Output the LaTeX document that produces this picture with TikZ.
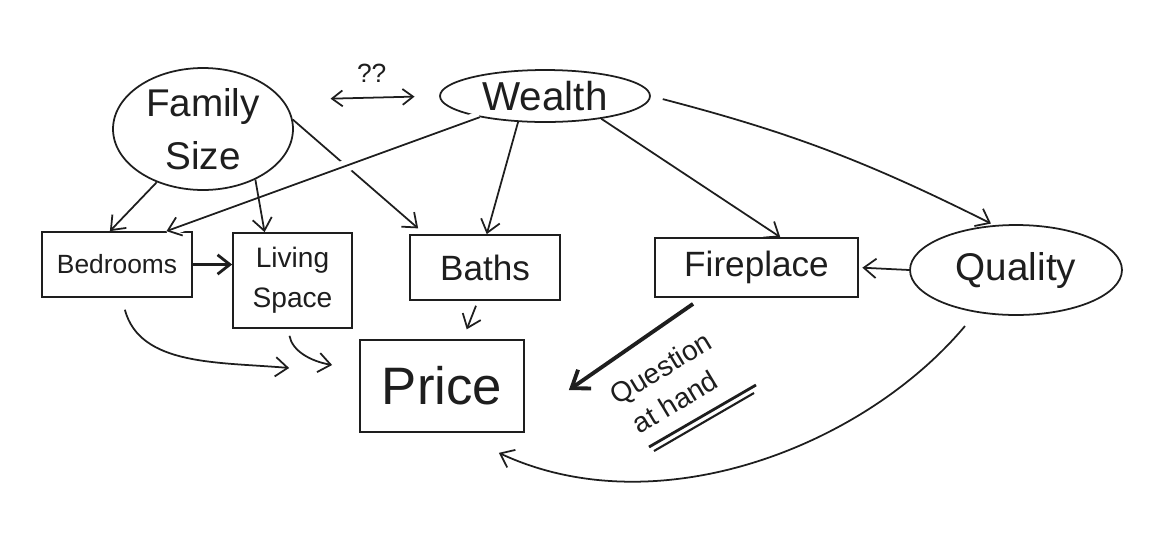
\documentclass[tikz,border=0pt]{standalone}
\usepackage{fontspec}
\setmainfont{Liberation Sans}
\usetikzlibrary{arrows.meta,shapes.geometric,calc}
\definecolor{ink}{HTML}{1E1E1E}
\begin{document}
\begin{tikzpicture}[x=0.02cm,y=-0.02cm, line width=1pt, draw=ink, text=ink,
  box/.style={draw, rectangle, inner sep=0pt},
  oval/.style={draw, ellipse, inner sep=0pt},
  arr/.style={-{Straight Barb[length=7pt,width=11pt]}},
  bigarr/.style={-{Straight Barb[length=9pt,width=13pt]}, line width=2.2pt},
  qlabel/.style={rotate=31, inner sep=1pt, font=\fontsize{16}{19}\selectfont},
]
\useasboundingbox[fill=white] (0,0) rectangle (1150,535);

% nodes
\node[oval, minimum width=3.6cm, minimum height=2.44cm, align=center,
      font=\fontsize{22}{30}\selectfont] (fam) at (203,129) {Family\\Size};
\node[oval, minimum width=4.2cm, minimum height=1.04cm,
      font=\fontsize{23}{26}\selectfont] (wea) at (545,96) {Wealth};
\node[oval, minimum width=4.24cm, minimum height=1.8cm,
      font=\fontsize{22}{26}\selectfont] (qua) at (1016,270) {Quality};
\node[box, minimum width=3.0cm, minimum height=1.3cm,
      font=\fontsize{15}{18}\selectfont] (bed) at (117,264.5) {Bedrooms};
\node[box, minimum width=2.38cm, minimum height=1.9cm, align=center,
      font=\fontsize{16}{23}\selectfont] (liv) at (292.5,280.5) {Living\\Space};
\node[box, minimum width=3.0cm, minimum height=1.3cm,
      font=\fontsize{20}{24}\selectfont] (bat) at (485,267.5) {Baths};
\node[box, minimum width=4.06cm, minimum height=1.18cm,
      font=\fontsize{20}{24}\selectfont] (fir) at (756.5,267.5) {Fireplace};
\node[box, minimum width=3.28cm, minimum height=1.84cm,
      font=\fontsize{30}{34}\selectfont] (pri) at (442,386) {Price};

% family size <-> wealth
\draw[{Straight Barb[length=6pt,width=9pt]}-{Straight Barb[length=6pt,width=9pt]},
      shorten <=27pt, shorten >=14pt] (fam.20) -- node[above=5pt, xshift=6pt, font=\fontsize{15}{17}\selectfont] (qq) {??} (wea.west);

% edges out of family size and wealth
\draw[arr, shorten >=5pt] (fam.6) -- (bat.151);
\draw[arr, preaction={draw, white, line width=7pt, -}] (wea.-162) -- (bed.34);
\draw[arr] (fam.-44) -- (liv.120);
\draw[arr] (fam.-131) -- (bed.102);
\draw[arr] (wea.-136) -- (bat.87);
\draw[arr] (wea.-22) -- (fir.52);
\draw[arr, shorten <=7pt, shorten >=2pt] (wea.east) to[bend left=6] (qua.116);

% between boxes
\draw[arr, line width=1.6pt] (bed.east) -- (bed.east -| liv.west);
\draw[arr, shorten >=2pt] (qua.west) -- (fir.east);
\draw[arr, shorten <=3pt, shorten >=6pt] (bat.-102) -- (pri.66);

% into price
\coordinate (bedend) at ($(pri.west)+(-70,-18)$);
\draw[arr, shorten <=7pt] (bed.-82) to[out=-75,in=175] (bedend);
\coordinate (livend) at ($(pri.west)+(-27,-21)$);
\draw[arr, shorten <=4pt] (liv.-95) to[out=-80,in=170] (livend);
\coordinate (firend) at ($(pri.east)+(44,4)$);
\draw[bigarr, shorten <=6pt] (fir.-151) -- (firend);
\coordinate (quaend) at ($(pri.south east)+(-26,20)$);
\draw[arr, shorten <=10pt] (qua.-133) to[out=-130,in=-25, looseness=0.9] (quaend);

% question at hand label
\node[qlabel] (qlab1) at (662,370) {Question};
\node[qlabel] (qlab2) at (675,402) {at hand};
\draw[line width=1.6pt] (649,447) -- (756,385);
\draw[line width=1.2pt] (654,451) -- (754,393);
\end{tikzpicture}
\end{document}
